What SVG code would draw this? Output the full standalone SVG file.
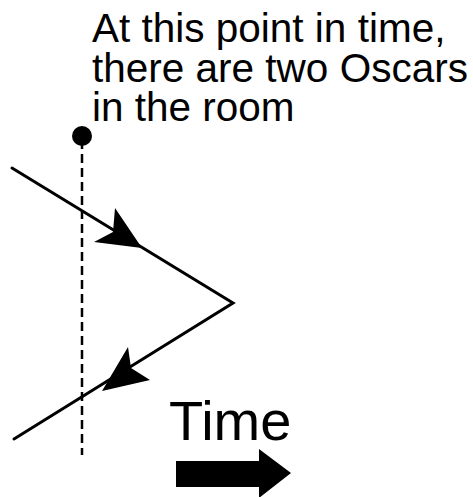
<svg xmlns="http://www.w3.org/2000/svg" width="473" height="497" viewBox="0 0 473 497">
<style>
.lbl{font-family:"Liberation Sans",Arial,sans-serif;fill:#000}
.ln{stroke:#000;stroke-width:3;fill:none;stroke-linecap:round;stroke-linejoin:miter}
</style>
<rect width="473" height="497" fill="#fff"/>
<g id="caption">
<text class="lbl" font-size="40.5" x="92" y="42">At this point in time,</text>
<text class="lbl" font-size="40.5" x="92" y="82">there are two Oscars</text>
<text class="lbl" font-size="40.5" x="92" y="121">in the room</text>
</g>
<g id="moment">
<circle cx="82" cy="136" r="10" fill="#000"/>
<line x1="82" y1="140" x2="82" y2="455" stroke="#000" stroke-width="2.5" stroke-dasharray="9,5"/>
</g>
<g id="connectors">
<polyline class="ln" points="12,168 233,303 14,439"/>
<path d="M142,248 L94,242 L113,232 L115,208 Z" fill="#000"/>
<path d="M102,391 L128,347 L131,368 L150,380 Z" fill="#000"/>
</g>
<g id="time">
<text class="lbl" font-size="56" x="169" y="440">Time</text>
<path d="M176,461 L259,461 L259,449 L291,473 L259,498 L259,487 L176,487 Z" fill="#000"/>
</g>
</svg>
